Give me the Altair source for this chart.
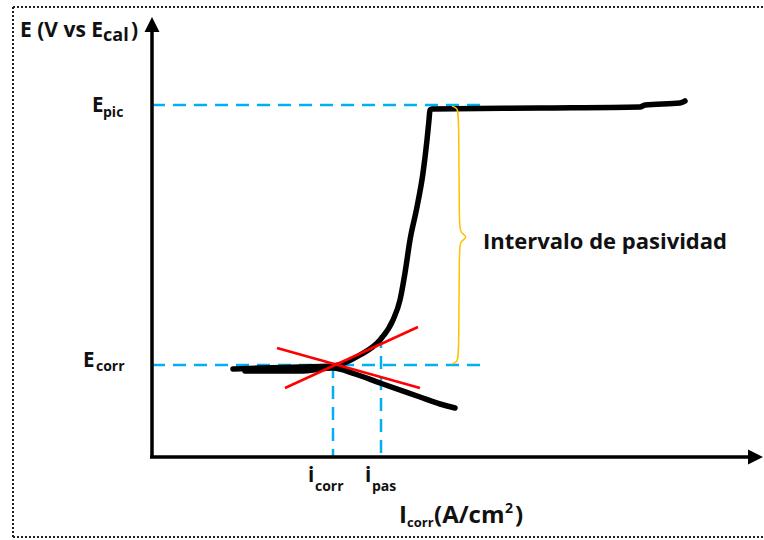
import altair as alt
import pandas as pd

# Schematic polarization curve; coordinates are in diagram units with the
# axis origin at (0, 0).

# Polarization curve: anodic branch (active -> passive plateau)
anodic_u = [81, 108, 148, 181, 208, 228, 241, 248, 253, 258, 265, 271, 275, 277, 278, 280, 388, 488, 493, 528, 533]
anodic_v = [88, 89, 90, 91, 102, 117, 137, 157, 184, 217, 250, 284, 317, 337, 347, 348, 349, 350, 352, 354, 356]
# Cathodic branch
cathodic_u = [93, 148, 181, 203, 228, 268, 288, 303]
cathodic_v = [86, 86, 89, 83, 74, 60, 53, 49]

# Tafel extrapolation lines (start u, start v, end u, end v)
tafel_u = [125, 133]
tafel_v = [109, 69]
tafel_u2 = [268, 266]
tafel_v2 = [69, 130]

# Guide lines: E_pic, E_corr, i_corr, i_pas
guide_u = [0, 0, 181, 229]
guide_v = [352, 92, 92, 122]
guide_u2 = [333, 333, 181, 229]
guide_v2 = [352, 92, 0, 0]

# Curly brace marking the passivity interval
brace_u = [300, 305, 307, 307, 309, 316, 309, 307, 307, 305, 300]
brace_v = [351, 349, 344, 229, 224, 220, 216, 211, 100, 95, 93]

# Axes
axis_u = [0, -2]
axis_v = [-1, 0]
axis_u2 = [0, 596]
axis_v2 = [425, 0]

# Dotted frame
frame_u = [-139, -139, -139]
frame_v = [450, -80, -80]
frame_u2 = [620, -139, 620]
frame_v2 = [450, 450, -80]

# Labels (main letters)
main_text = ["E (V vs E", ")", "E", "E", "i", "i", "I", "(A/cm", ")", "Intervalo de pasividad"]
main_u = [-132, -21, -60, -69, 156, 213, 247, 282, 363, 331]
main_v = [420, 420, 345, 90, -25, -25, -66, -66, -66, 208]
main_size = [21, 21, 20.5, 20.5, 20.5, 20.5, 24, 24, 24, 22]

# Subscripts and superscript
sub_text = ["cal", "pic", "corr", "corr", "pas", "corr", "2"]
sub_u = [-49, -49, -56, 163, 220, 255, 353]
sub_v = [416, 340, 86, -34, -34, -70, -56]
sub_size = [18, 14, 14, 14, 14, 13, 14]

XS = alt.Scale(domain=[-152, 612], nice=False, zero=False)
YS = alt.Scale(domain=[-83, 457], nice=False, zero=False)


def xy(u="u", v="v"):
    return dict(x=alt.X(f"{u}:Q", scale=XS, axis=None),
                y=alt.Y(f"{v}:Q", scale=YS, axis=None))


def segs(u, v, u2, v2):
    return pd.DataFrame({"u": u, "v": v, "u2": u2, "v2": v2})


frame = alt.Chart(segs(frame_u, frame_v, frame_u2, frame_v2)).mark_rule(
    color="#222222", strokeWidth=2, strokeDash=[2, 2]
).encode(**xy(), x2="u2:Q", y2="v2:Q")

guides = alt.Chart(segs(guide_u, guide_v, guide_u2, guide_v2)).mark_rule(
    color="#00B0F0", strokeWidth=2.5, strokeDash=[13, 8]
).encode(**xy(), x2="u2:Q", y2="v2:Q")

axes = alt.Chart(segs(axis_u, axis_v, axis_u2, axis_v2)).mark_rule(
    color="black", strokeWidth=3.5
).encode(**xy(), x2="u2:Q", y2="v2:Q")

arrow_up = alt.Chart(pd.DataFrame({"u": [0], "v": [432.5]})).mark_point(
    shape="M0,-1L1,1L-1,1Z", filled=True, color="black", size=225, opacity=1
).encode(**xy())
arrow_right = alt.Chart(pd.DataFrame({"u": [603.5], "v": [0]})).mark_point(
    shape="M1,0L-1,1L-1,-1Z", filled=True, color="black", size=225, opacity=1
).encode(**xy())

curve_df = pd.concat([
    pd.DataFrame({"u": anodic_u, "v": anodic_v, "branch": "anodic",
                  "k": range(len(anodic_u))}),
    pd.DataFrame({"u": cathodic_u, "v": cathodic_v, "branch": "cathodic",
                  "k": range(len(cathodic_u))}),
])
curve = alt.Chart(curve_df).mark_line(
    color="black", strokeWidth=5.5, strokeCap="round", strokeJoin="round",
    interpolate="monotone"
).encode(**xy(), detail="branch:N", order="k:Q")

tafel = alt.Chart(segs(tafel_u, tafel_v, tafel_u2, tafel_v2)).mark_rule(
    color="#FF0000", strokeWidth=2.5
).encode(**xy(), x2="u2:Q", y2="v2:Q")

brace = alt.Chart(pd.DataFrame({"u": brace_u, "v": brace_v,
                                "k": range(len(brace_u))})).mark_line(
    color="#FFC000", strokeWidth=1.5, interpolate="basis"
).encode(**xy(), order="k:Q")

labels = alt.Chart(pd.DataFrame({"t": main_text, "u": main_u, "v": main_v,
                                 "fs": main_size})).mark_text(
    align="left", baseline="alphabetic", font="Open Sans", fontWeight="bold",
    color="#111111"
).encode(**xy(), text="t:N", size=alt.Size("fs:Q", scale=None))

sublabels = alt.Chart(pd.DataFrame({"t": sub_text, "u": sub_u, "v": sub_v,
                                    "fs": sub_size})).mark_text(
    align="left", baseline="alphabetic", font="Open Sans", fontWeight="bold",
    color="#111111"
).encode(**xy(), text="t:N", size=alt.Size("fs:Q", scale=None))

chart = alt.layer(
    frame, guides, axes, arrow_up, arrow_right, curve, tafel, brace,
    labels, sublabels
).properties(
    width=764, height=540, autosize=alt.AutoSizeParams(type="none"), padding=0,
    background="white"
).configure_view(strokeWidth=0)

chart.save("out.html", embed_options={"renderer": "svg", "actions": False})
